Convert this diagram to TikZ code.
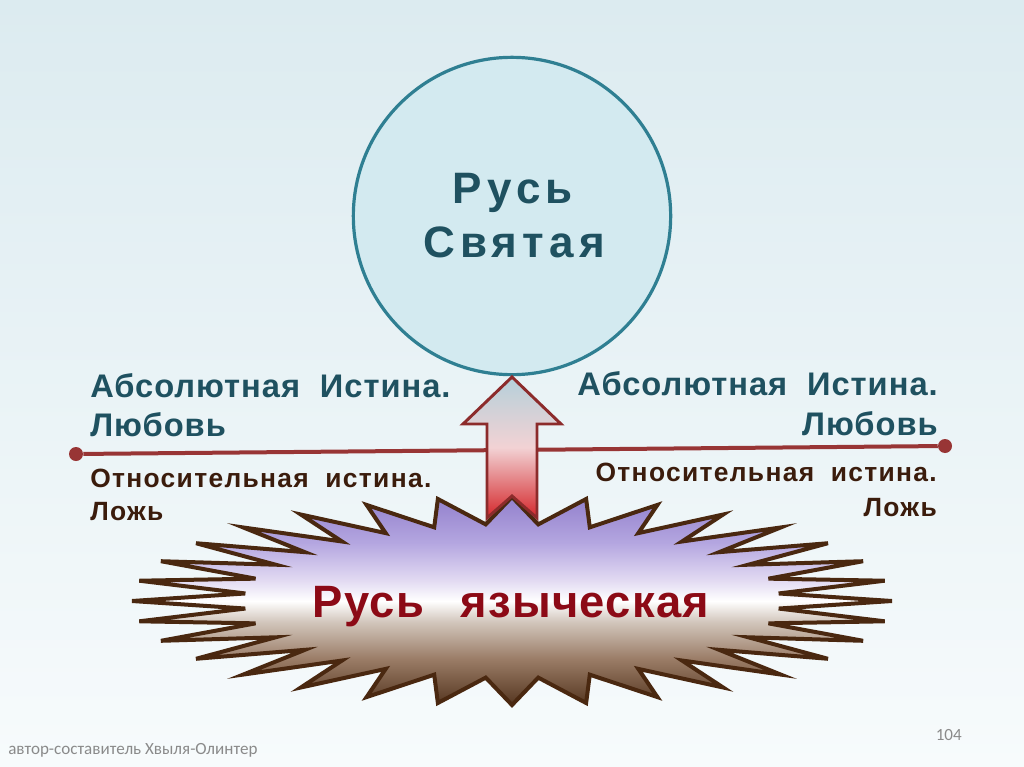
\documentclass[tikz,border=0pt]{standalone}
\usepackage{fontspec}
\setmainfont{Liberation Sans}
\newfontfamily\footfont{Carlito}
\usetikzlibrary{shapes.geometric}
\definecolor{bgtop}{HTML}{DCEBF0}
\definecolor{bgbot}{HTML}{F7FBFC}
\definecolor{circfill}{HTML}{D3EAF0}
\definecolor{circline}{HTML}{2F7F92}
\definecolor{tealtext}{HTML}{1F5160}
\definecolor{browntext}{HTML}{3B1C0C}
\definecolor{redtext}{HTML}{8C0A16}
\definecolor{axiscol}{HTML}{983535}
\definecolor{burstline}{HTML}{4A2810}
\definecolor{bursttop}{HTML}{9280CC}
\definecolor{burstlav}{HTML}{B4A6E0}
\definecolor{burstpale}{HTML}{E2DAF2}
\definecolor{bursttan}{HTML}{D2C6BC}
\definecolor{burstmid}{HTML}{9A7C66}
\definecolor{burstbot}{HTML}{553620}
\definecolor{arrtop}{HTML}{B5D0DA}
\definecolor{arrmid}{HTML}{F2D2D4}
\definecolor{arrbot}{HTML}{D4262A}
\definecolor{arrline}{HTML}{8C2B2B}
\definecolor{footcol}{HTML}{8A8A8A}
\pgfdeclareverticalshading{burstshade}{100bp}{
  color(0bp)=(burstbot); color(25bp)=(burstbot); color(36bp)=(burstmid);
  color(45bp)=(bursttan); color(50bp)=(white); color(55bp)=(burstpale);
  color(64bp)=(burstlav); color(75bp)=(bursttop); color(100bp)=(bursttop)}
\tikzset{
  dot/.style={circle, fill=axiscol, inner sep=0pt, minimum size=10.5pt},
  axisline/.style={draw=axiscol, line width=3pt},
  holy/.style={circle, draw=circline, line width=2.4pt, fill=circfill, minimum size=238pt},
  holytext/.style={text=tealtext, inner sep=0pt, anchor=base, font=\addfontfeature{LetterSpace=12}\fontsize{33}{40}\selectfont\bfseries},
  upper/.style={text=tealtext, font=\addfontfeature{LetterSpace=3}\fontsize{24.5}{28}\selectfont\bfseries, inner sep=0pt},
  lower/.style={text=browntext, font=\addfontfeature{LetterSpace=5}\fontsize{19.8}{25}\selectfont\bfseries, inner sep=0pt},
  pagan/.style={text=redtext, inner sep=0pt, anchor=base, font=\addfontfeature{LetterSpace=3}\fontsize{34}{36}\selectfont\bfseries},
  burst/.style={draw=burstline, line width=3pt, shading=burstshade},
  blockarrow/.style={draw=arrline, line width=2.2pt, top color=arrtop, bottom color=arrbot, middle color=arrmid},
  foot/.style={text=footcol, font=\footfont\fontsize{12.8}{14}\selectfont, inner sep=0pt}
}
\begin{document}
\begin{tikzpicture}[x=0.75pt,y=-0.75pt]
\useasboundingbox (0,0) rectangle (1024,767);
\fill[top color=bgtop,bottom color=bgbot] (0,0) rectangle (1024,767);
% axis line with end dots
\node[dot] (L) at (76,454) {};
\node[dot] (R) at (945,446) {};
\draw[axisline] (L) -- (R);
% starburst
\draw[burst] (512,497)
  \foreach \k in {0,...,31}{
    -- ({512+268*cos(95.625+\k*11.25)},{601-77*sin(95.625+\k*11.25)})
    -- ({512+380*cos(101.25+\k*11.25)},{601-104*sin(101.25+\k*11.25)})
  } -- cycle;
\node[pagan] (pag) at (511,617) {Русь\hspace{0.8em}языческая};
% circle
\node[holy] (holy) at (512,216) {};
\node[holytext] (holy1) at (513,203) {Русь};
\node[holytext] (holy2) at (514,257) {Святая};
% block arrow
\draw[blockarrow] (512,377) -- (561,424) -- (537,424) -- (537,518) -- (512,496)
  -- (487,518) -- (487,424) -- (463,424) -- cycle;
% side texts
\node[upper, anchor=west] (lt1) at (90,386) {Абсолютная\hspace{0.3em} Истина.};
\node[upper, anchor=west] (lt2) at (90,425) {Любовь};
\node[lower, anchor=west] (lb1) at (90,478) {Относительная\hspace{0.3em} истина.};
\node[lower, anchor=west] (lb2) at (90,512) {Ложь};
\node[upper, anchor=east] (rt1) at (938,384) {Абсолютная\hspace{0.3em} Истина.};
\node[upper, anchor=east] (rt2) at (938,424) {Любовь};
\node[lower, anchor=east] (rb1) at (937,472) {Относительная\hspace{0.3em} истина.};
\node[lower, anchor=east] (rb2) at (937,508) {Ложь};
% footer
\node[foot, anchor=west] (author) at (8,750) {автор-составитель Хвыля-Олинтер};
\node[foot, anchor=east] (page) at (962,735) {104};
\end{tikzpicture}
\end{document}
